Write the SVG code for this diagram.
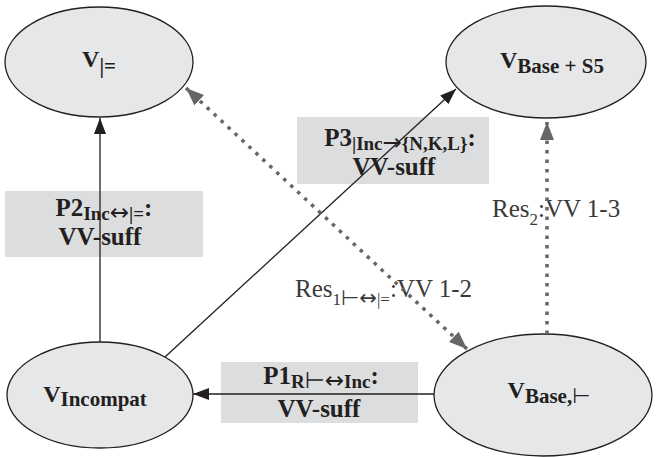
<svg xmlns="http://www.w3.org/2000/svg" width="656" height="457" viewBox="0 0 656 457">
<defs>
<style>
.node{fill:#e6e7e9;stroke:#231f20;stroke-width:1.3}
.lbox{fill:#dcdddf;stroke:none}
.t{font-family:"Liberation Serif","DejaVu Serif",serif;fill:#231f20}
.nb{font-weight:bold;font-size:24px}
.ns{font-weight:bold;font-size:21px}
.lb{font-weight:bold;font-size:25px}
.ls{font-weight:bold;font-size:19px}
.ar{font-family:"DejaVu Sans",sans-serif;font-weight:normal;font-size:23px}
.res{font-family:"Liberation Serif","DejaVu Serif",serif;fill:#3a3a3a;font-size:25px}
.rs{font-size:17px}
.rar{font-family:"DejaVu Sans",sans-serif;font-size:21px}
.solid{stroke:#231f20;stroke-width:1.3;fill:none}
.dot{stroke:#666;stroke-width:3.5;fill:none;stroke-dasharray:3.5 6}
</style>
<marker id="ah" markerUnits="userSpaceOnUse" markerWidth="16" markerHeight="14" viewBox="0 0 16 14" refX="16" refY="7" orient="auto">
<path d="M0,1 L16,7 L0,13 Z" fill="#231f20"/>
</marker>
<marker id="ag" markerUnits="userSpaceOnUse" markerWidth="18" markerHeight="16" viewBox="0 0 18 16" refX="18" refY="8" orient="auto-start-reverse">
<path d="M0,1 L18,8 L0,15 Z" fill="#666"/>
</marker>
</defs>

<g id="node-v-models">
<ellipse class="node" cx="99" cy="62" rx="94" ry="55"/>
<text class="t" x="99" y="67" text-anchor="middle"><tspan class="nb">V</tspan><tspan class="ns" dy="6">|=</tspan></text>
</g>
<g id="node-v-base-s5">
<ellipse class="node" cx="546" cy="62" rx="100" ry="56"/>
<text class="t" x="552" y="68" text-anchor="middle"><tspan class="nb">V</tspan><tspan class="ns" dy="5">Base + S5</tspan></text>
</g>
<g id="node-v-incompat">
<ellipse class="node" cx="100" cy="395" rx="93" ry="53"/>
<text class="t" x="95" y="402" text-anchor="middle"><tspan class="nb">V</tspan><tspan class="ns" dy="4">Incompat</tspan></text>
</g>
<g id="node-v-base-turnstile">
<ellipse class="node" cx="543" cy="395" rx="109" ry="61"/>
<text class="t" x="549" y="398" text-anchor="middle"><tspan class="nb">V</tspan><tspan class="ns" dy="5">Base,</tspan><tspan class="ar" style="font-size:21px">⊢</tspan></text>
</g>

<g id="labels">
<rect class="lbox" x="5" y="191" width="198" height="66"/>
<text class="t" x="104" y="216" text-anchor="middle"><tspan class="lb">P2</tspan><tspan class="ls" dy="4">Inc</tspan><tspan class="ar">↔</tspan><tspan class="ls">|=</tspan><tspan class="lb" dy="-4">:</tspan></text>
<text class="t lb" x="100" y="245" text-anchor="middle">VV-suff</text>

<rect class="lbox" x="297" y="117" width="192" height="67"/>
<text class="t" x="400" y="146" text-anchor="middle"><tspan class="lb">P3</tspan><tspan class="ls" dy="4">|Inc</tspan><tspan class="ar">→</tspan><tspan class="ls">{N,K,L}</tspan><tspan class="lb" dy="-4">:</tspan></text>
<text class="t lb" x="394" y="175" text-anchor="middle">VV-suff</text>

<rect class="lbox" x="221" y="362" width="197" height="61"/>
<text class="t" x="321" y="384" text-anchor="middle"><tspan class="lb">P1</tspan><tspan class="ls" dy="4">R</tspan><tspan class="ar">⊢↔</tspan><tspan class="ls">Inc</tspan><tspan class="lb" dy="-4">:</tspan></text>
<text class="t lb" x="319" y="417" text-anchor="middle">VV-suff</text>

<text class="res" x="295" y="297">Res<tspan class="rs" dy="8">1</tspan><tspan class="rar">⊢↔</tspan><tspan class="rs">|=</tspan><tspan dy="-8">:VV 1-2</tspan></text>
<text class="res" x="492" y="217">Res<tspan class="rs" dy="8">2</tspan><tspan dy="-8">:VV 1-3</tspan></text>
</g>

<g id="connectors">
<line class="solid" x1="100" y1="342" x2="100" y2="118" marker-end="url(#ah)"/>
<line class="solid" x1="165" y1="357" x2="456" y2="89" marker-end="url(#ah)"/>
<line class="solid" x1="434" y1="394" x2="193" y2="394" marker-end="url(#ah)"/>
<line class="dot" x1="186" y1="88" x2="467" y2="349" marker-start="url(#ag)" marker-end="url(#ag)"/>
<line class="dot" x1="547" y1="334" x2="547" y2="122" marker-end="url(#ag)"/>
</g>
</svg>
